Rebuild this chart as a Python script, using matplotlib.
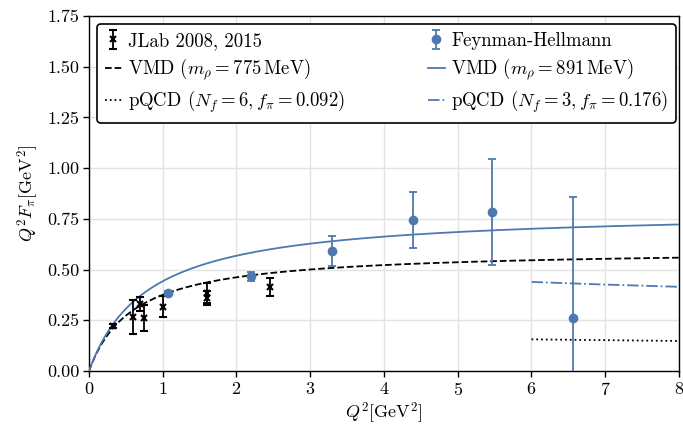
import numpy as np
import matplotlib
matplotlib.use('Agg')
import matplotlib.pyplot as plt

plt.rcParams['font.family'] = 'serif'
plt.rcParams['font.serif'] = ['cmr10']
plt.rcParams['mathtext.fontset'] = 'cm'
plt.rcParams['axes.formatter.use_mathtext'] = True
plt.rcParams['axes.unicode_minus'] = False

# JLab pion form factor data (Q^2, Q^2 F_pi, error)
jlab_q2 = [0.33, 0.60, 0.69, 0.75, 1.00, 1.60, 1.60, 2.45]
jlab_f = [0.223, 0.265, 0.330, 0.260, 0.317, 0.383, 0.360, 0.415]
jlab_err = [0.010, 0.083, 0.035, 0.065, 0.053, 0.050, 0.035, 0.043]

# Feynman-Hellmann lattice results
fh_q2 = [1.07, 2.20, 3.29, 4.39, 5.46, 6.56]
fh_f = [0.383, 0.466, 0.590, 0.744, 0.784, 0.263]
fh_err = [0.010, 0.022, 0.074, 0.139, 0.260, 0.593]

# VMD masses in GeV
m_rho_phys = 0.775
m_rho_lat = 0.891

# pQCD asymptotic values at large Q^2
pqcd_q2 = [6.0, 7.0, 8.0]
pqcd_nf6 = [0.156, 0.152, 0.148]
pqcd_nf3 = [0.439, 0.426, 0.415]

blue = '#4e79b0'

q2 = np.linspace(0, 8, 400)


def vmd(q2, m):
    return q2 / (1 + q2 / m**2)


fig, ax = plt.subplots(figsize=(6.83, 4.28), dpi=100)
fig.subplots_adjust(left=0.1303, right=0.9941, top=0.9626, bottom=0.1332)

h_jlab = ax.errorbar(jlab_q2, jlab_f, yerr=jlab_err, fmt='x', color='black',
                     ms=5, mew=1.5, capsize=3, elinewidth=1.3, capthick=1.3,
                     zorder=4)
h_fh = ax.errorbar(fh_q2, fh_f, yerr=fh_err, fmt='o', color=blue,
                   ms=6, capsize=3, elinewidth=1.3, capthick=1.3, zorder=4)
h_vmd1, = ax.plot(q2, vmd(q2, m_rho_phys), '--', color='black', lw=1.3, zorder=3)
h_vmd2, = ax.plot(q2, vmd(q2, m_rho_lat), '-', color=blue, lw=1.3, zorder=3)
h_p6, = ax.plot(pqcd_q2, pqcd_nf6, ':', color='black', lw=1.3, zorder=3)
h_p3, = ax.plot(pqcd_q2, pqcd_nf3, '-.', color=blue, lw=1.3, zorder=3)

ax.set_xlim(0, 8)
ax.set_ylim(0, 1.75)
ax.set_yticks(np.arange(0, 1.76, 0.25))
ax.set_yticklabels(['%.2f' % v for v in np.arange(0, 1.76, 0.25)])
ax.set_xticks(range(9))
ax.grid(True, color='#e3e3e3', lw=1)
ax.set_axisbelow(True)
for s in ax.spines.values():
    s.set_color('black')
    s.set_linewidth(1.0)
ax.tick_params(labelsize=13, length=4, width=1, pad=3)

ax.set_xlabel(r'$Q^2[\mathrm{GeV}^2]$', fontsize=13, labelpad=2)
ax.set_ylabel(r'$Q^2F_\pi[\mathrm{GeV}^2]$', fontsize=13, labelpad=4)

handles = [h_jlab, h_vmd1, h_p6, h_fh, h_vmd2, h_p3]
labels = ['JLab 2008, 2015',
          r'VMD ($m_\rho = 775\,\mathrm{MeV}$)',
          r'pQCD ($N_f = 6, f_\pi = 0.092$)',
          'Feynman-Hellmann',
          r'VMD ($m_\rho = 891\,\mathrm{MeV}$)',
          r'pQCD ($N_f = 3, f_\pi = 0.176$)']
leg = ax.legend(handles, labels, ncol=2, loc='upper left',
                bbox_to_anchor=(-0.002, 1.003), fontsize=13.5, handlelength=0.9,
                handletextpad=0.35, columnspacing=4.4, labelspacing=0.35,
                borderpad=0.4, framealpha=1, fancybox=True)
leg.get_frame().set_edgecolor('black')
leg.get_frame().set_linewidth(1.2)

fig.savefig('out.png', dpi=100)
